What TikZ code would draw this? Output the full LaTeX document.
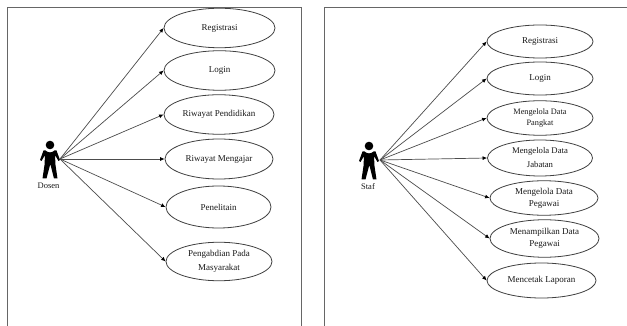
\documentclass[tikz,border=0pt]{standalone}
\usepackage{fontspec}
\setmainfont{Liberation Serif}
\usetikzlibrary{arrows.meta,shapes.geometric}
\tikzset{
  usecase/.style={draw=black!75,line width=0.8pt,ellipse,inner sep=0pt,align=center,font=\fontsize{9}{12}\selectfont,text=black!90},
  spaced/.style={font=\fontsize{9}{14}\selectfont},
  pangkat/.style={font=\fontsize{8.3}{11}\selectfont},
  jabatan/.style={font=\fontsize{8.7}{14}\selectfont},
  conn/.style={draw=black!70,line width=0.7pt,-{Latex[length=4.5pt,width=4pt,black]}},
  frameline/.style={draw=black!60,line width=1pt},
  actorlabel/.style={inner sep=0pt,font=\fontsize{8.5}{10}\selectfont,text=black!90},
  pics/actor/.style={code={
    \fill[black] (0,-14) circle (4.3);
    \fill[black] (-4.5,-8.5) .. controls (-2,-6) and (2,-6) .. (4.5,-8.5)
      -- (6.5,-8.5) -- (10,1) -- (8.5,2) -- (5,-4) -- (5.5,6) -- (7.5,19.5) -- (4,19.5)
      -- (0.3,5) -- (-3.5,19.5) -- (-7.5,19.5) -- (-5.5,6) -- (-5,-4) -- (-8.5,2) -- (-10,1) -- (-6.5,-8.5) -- cycle;
  }}
}
\begin{document}
\begin{tikzpicture}[x=1pt,y=-1pt]
\useasboundingbox (0,0) rectangle (627,326);
\fill[white] (0,0) rectangle (627,326);
% left panel
\draw[frameline] (7,326) -- (7,8) -- (301,8) -- (301,326);
\pic at (50,159) {actor};
\coordinate (dosen) at (60,159);
\node[actorlabel] (dosenlabel) at (48.5,186) {Dosen};
\node[usecase,minimum width=111pt,minimum height=39.5pt] (a1) at (219.5,28) {Registrasi};
\node[usecase,minimum width=111pt,minimum height=39.5pt] (a2) at (219.5,70.5) {Login};
\node[usecase,minimum width=110pt,minimum height=39.5pt] (a3) at (219,114.5) {Riwayat Pendidikan};
\node[usecase,minimum width=108pt,minimum height=40pt] (a4) at (219,159) {Riwayat Mengajar};
\node[usecase,minimum width=105pt,minimum height=42pt] (a5) at (218.5,207) {Penelitain};
\node[usecase,spaced,minimum width=106pt,minimum height=38.5pt] (a6) at (219,261.5) {Pengabdian Pada\\Masyarakat};
\foreach \n in {a1,a2,a3,a4,a5,a6} \draw[conn] (dosen) -- (\n.west);
% right panel
\draw[frameline] (324.5,326) -- (324.5,7.5) -- (627,7.5);
\pic at (369,160) {actor};
\coordinate (staf) at (380,160);
\node[actorlabel] (staflabel) at (368,187) {Staf};
\node[usecase,minimum width=106pt,minimum height=33pt] (b1) at (540,41.5) {Registrasi};
\node[usecase,minimum width=106pt,minimum height=33pt] (b2) at (540,78.5) {Login};
\node[usecase,pangkat,minimum width=106pt,minimum height=34.5pt] (b3) at (540,118) {Mengelola Data\\Pangkat};
\node[usecase,jabatan,minimum width=105pt,minimum height=36pt] (b4) at (540,158) {Mengelola Data\\Jabatan};
\node[usecase,minimum width=108pt,minimum height=34.5pt] (b5) at (544,198) {Mengelola Data\\Pegawai};
\node[usecase,minimum width=109pt,minimum height=37.5pt] (b6) at (544.5,238.5) {Menampilkan Data\\Pegawai};
\node[usecase,minimum width=109pt,minimum height=35pt] (b7) at (541.5,280.5) {Mencetak Laporan};
\foreach \n in {b1,b2,b3,b4,b5,b6,b7} \draw[conn] (staf) -- (\n.west);
\end{tikzpicture}
\end{document}
